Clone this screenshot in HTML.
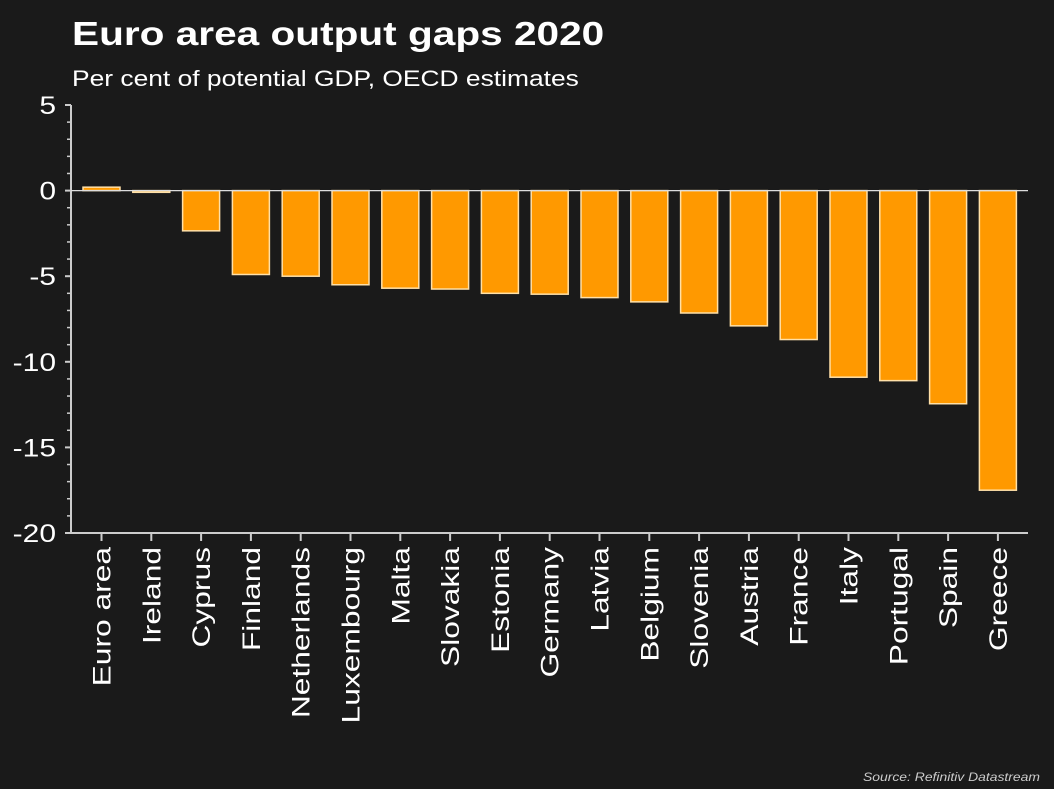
<!DOCTYPE html>
<html><head><meta charset="utf-8"><style>
body{margin:0;background:#1a1a1a;}
svg{display:block;font-family:"Liberation Sans",Arial,sans-serif;}
</style></head><body>
<svg id="c" width="1054" height="789">
<rect width="1054" height="789" fill="#1a1a1a"/>
<text transform="translate(72,45) scale(1.23,1)" fill="#fff" font-size="33" font-weight="bold">Euro area output gaps 2020</text>
<text transform="translate(72,86) scale(1.2,1)" fill="#fff" font-size="22">Per cent of potential GDP, OECD estimates</text>
<text transform="translate(1040,781) scale(1.16,1)" fill="#ccc" font-size="12" font-style="italic" text-anchor="end">Source: Refinitiv Datastream</text>
<g id="g"></g>
</svg>
<script>
const categories=["Euro area","Ireland","Cyprus","Finland","Netherlands","Luxembourg","Malta","Slovakia","Estonia","Germany","Latvia","Belgium","Slovenia","Austria","France","Italy","Portugal","Spain","Greece"];
const values=[0.2,-0.1,-2.35,-4.9,-5.0,-5.5,-5.7,-5.75,-6.0,-6.05,-6.25,-6.5,-7.15,-7.9,-8.7,-10.9,-11.1,-12.45,-17.5];
const yTicks=[5,0,-5,-10,-15,-20];
const NS="http://www.w3.org/2000/svg";
const g=document.getElementById('g');
const yMax=5,yMin=-20,pTop=105,pBot=533,pLeft=71,pRight=1028;
const y=v=>pTop+(yMax-v)/(yMax-yMin)*(pBot-pTop);
const xc=i=>101.5+i*49.8;
function mk(t,a){const e=document.createElementNS(NS,t);for(const k in a)e.setAttribute(k,a[k]);g.appendChild(e);return e;}
let e;
for(let v=yMin;v<=yMax;v++){
  const major=v%5===0;
  e=mk('line',{x1:major?65:67,x2:pLeft,y1:y(v),y2:y(v),stroke:'#ccc','stroke-width':major?2:1.5});
  
  
}
yTicks.forEach(v=>{
  e=mk('text',{x:0,y:0,fill:'#fff','font-size':25,'text-anchor':'end',transform:`translate(56,${y(v)+9}) scale(1.2,1)`});
  e.textContent=v;
  
  
});
e=mk('line',{x1:pLeft,x2:pLeft,y1:pTop,y2:pBot,stroke:'#ccc','stroke-width':2});


e=mk('line',{x1:pLeft,x2:pRight,y1:pBot,y2:pBot,stroke:'#ccc','stroke-width':2});


categories.forEach((c,i)=>{
  const cx=xc(i);
  const v=values[i];
  const y0=y(0),y1=y(v);
  e=mk('rect',{x:cx-18.5,y:Math.min(y0,y1),width:37,height:Math.max(Math.abs(y1-y0),1.5),fill:'#ff9900',stroke:'#ffe0a8','stroke-width':1.5});
  
  
  e=mk('line',{x1:cx,x2:cx,y1:pBot,y2:pBot+8,stroke:'#ccc','stroke-width':2});
  
  
  e=mk('text',{x:0,y:0,fill:'#fff','font-size':25,'text-anchor':'end',transform:`translate(${cx+9},547) rotate(-90) scale(1.27,1)`});
  e.textContent=c;
  
  
});
e=mk('line',{x1:pLeft,x2:pRight,y1:y(0),y2:y(0),stroke:'#ddd','stroke-width':1.2});


</script>
</body></html>
